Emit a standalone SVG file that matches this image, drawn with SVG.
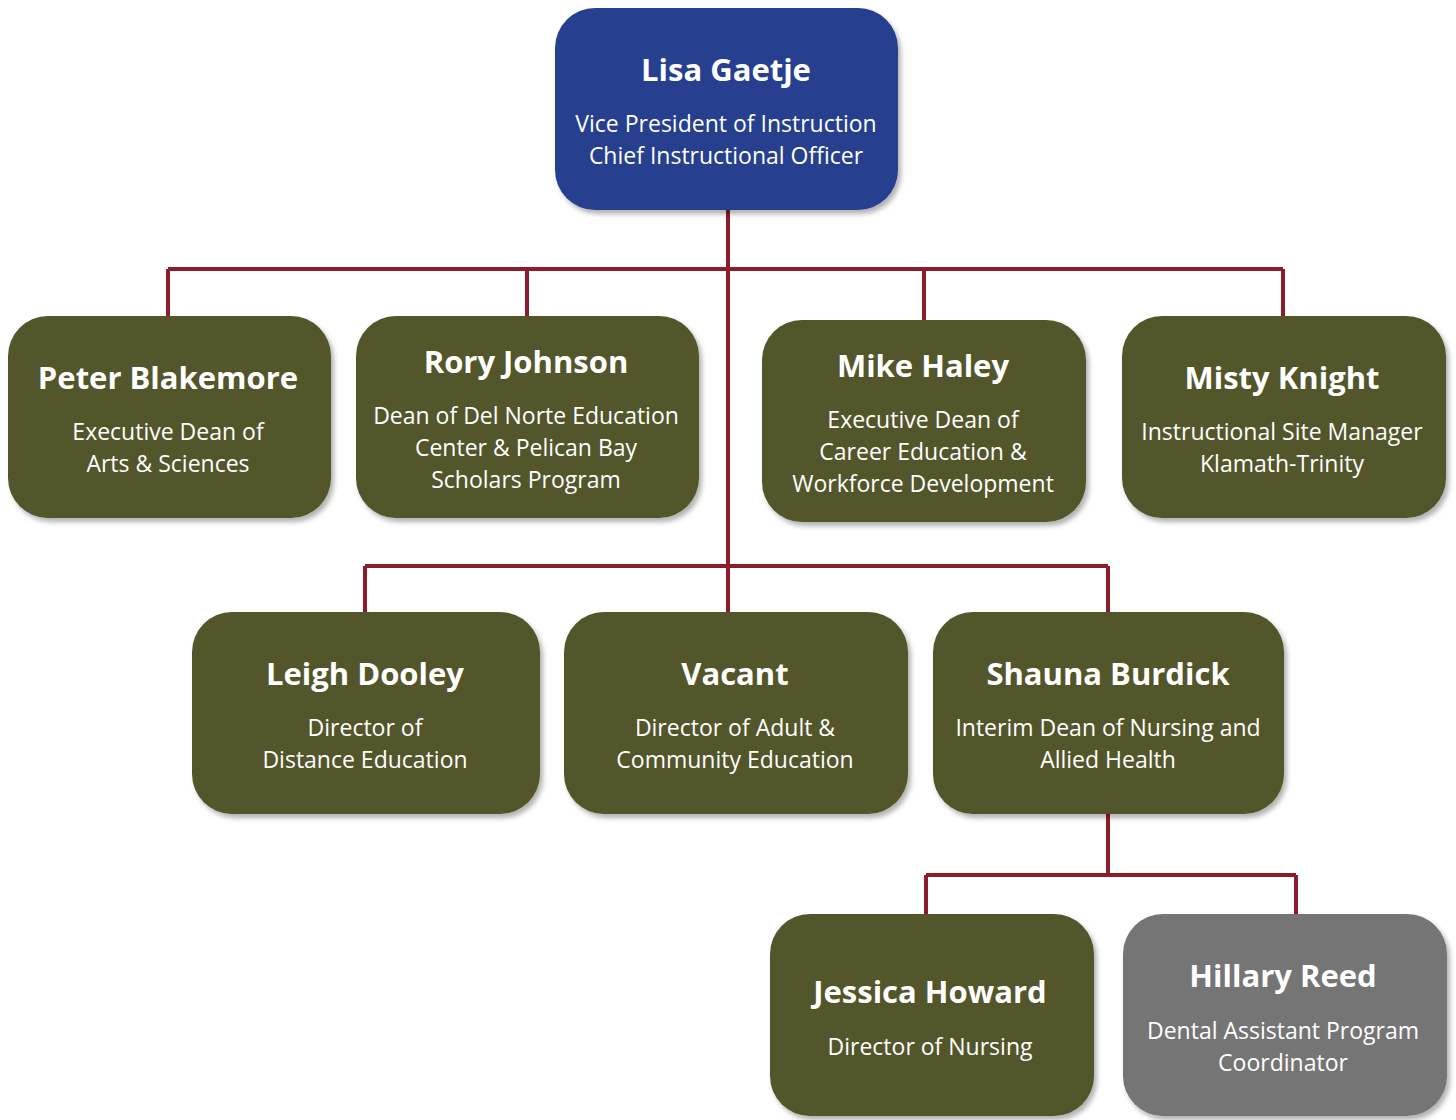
<svg xmlns="http://www.w3.org/2000/svg" width="1456" height="1120" viewBox="0 0 1456 1120">
<defs>
<filter id="sh" x="-10%" y="-10%" width="125%" height="130%">
<feDropShadow dx="3" dy="4" stdDeviation="2.5" flood-color="#000" flood-opacity="0.3"/>
</filter>
<style>
.box{filter:url(#sh)}
.blue{fill:#26408f}
.olive{fill:#535629}
.gray{fill:#747476}
.name{font-family:"Open Sans","Liberation Sans",sans-serif;font-weight:bold;font-size:31px;fill:#fff;text-anchor:middle}
.sub{font-family:"Open Sans","Liberation Sans",sans-serif;font-size:23px;fill:#fff;text-anchor:middle}
.con{stroke:#8d1c2b;stroke-width:4;fill:none}
</style>
</defs>
<rect width="1456" height="1120" fill="#fff"/>
<g id="connectors">
<path class="con" d="M728 210V612M168 269H1283M168 269V316M527 269V316M924 269V320M1283 269V316M365 566H1108M365 566V612M1108 566V612M1108 814V875M926 875H1296M926 875V914M1296 875V914"/>
</g>
<g id="lisa"><rect class="box blue" x="555" y="8" width="343" height="202" rx="40"/>
<text class="name" x="726" y="81">Lisa Gaetje</text>
<text class="sub" x="726" y="132">Vice President of Instruction</text>
<text class="sub" x="726" y="164">Chief Instructional Officer</text></g>
<g id="peter"><rect class="box olive" x="8" y="316" width="323" height="202" rx="40"/>
<text class="name" x="168" y="389">Peter Blakemore</text>
<text class="sub" x="168" y="440">Executive Dean of</text>
<text class="sub" x="168" y="472">Arts &amp; Sciences</text></g>
<g id="rory"><rect class="box olive" x="356" y="316" width="343" height="202" rx="40"/>
<text class="name" x="526" y="373">Rory Johnson</text>
<text class="sub" x="526" y="424">Dean of Del Norte Education</text>
<text class="sub" x="526" y="456">Center &amp; Pelican Bay</text>
<text class="sub" x="526" y="488">Scholars Program</text></g>
<g id="mike"><rect class="box olive" x="762" y="320" width="324" height="202" rx="40"/>
<text class="name" x="923" y="377">Mike Haley</text>
<text class="sub" x="923" y="428">Executive Dean of</text>
<text class="sub" x="923" y="460">Career Education &amp;</text>
<text class="sub" x="923" y="492">Workforce Development</text></g>
<g id="misty"><rect class="box olive" x="1122" y="316" width="324" height="202" rx="40"/>
<text class="name" x="1282" y="389">Misty Knight</text>
<text class="sub" x="1282" y="440">Instructional Site Manager</text>
<text class="sub" x="1282" y="472">Klamath-Trinity</text></g>
<g id="leigh"><rect class="box olive" x="192" y="612" width="348" height="202" rx="40"/>
<text class="name" x="365" y="685">Leigh Dooley</text>
<text class="sub" x="365" y="736">Director of</text>
<text class="sub" x="365" y="768">Distance Education</text></g>
<g id="vacant"><rect class="box olive" x="564" y="612" width="344" height="202" rx="40"/>
<text class="name" x="735" y="685">Vacant</text>
<text class="sub" x="735" y="736">Director of Adult &amp;</text>
<text class="sub" x="735" y="768">Community Education</text></g>
<g id="shauna"><rect class="box olive" x="933" y="612" width="351" height="202" rx="40"/>
<text class="name" x="1108" y="685">Shauna Burdick</text>
<text class="sub" x="1108" y="736">Interim Dean of Nursing and</text>
<text class="sub" x="1108" y="768">Allied Health</text></g>
<g id="jessica"><rect class="box olive" x="770" y="914" width="324" height="202" rx="40"/>
<text class="name" x="930" y="1003">Jessica Howard</text>
<text class="sub" x="930" y="1055">Director of Nursing</text></g>
<g id="hillary"><rect class="box gray" x="1123" y="914" width="324" height="202" rx="40"/>
<text class="name" x="1283" y="987">Hillary Reed</text>
<text class="sub" x="1283" y="1039">Dental Assistant Program</text>
<text class="sub" x="1283" y="1071">Coordinator</text></g>
</svg>
